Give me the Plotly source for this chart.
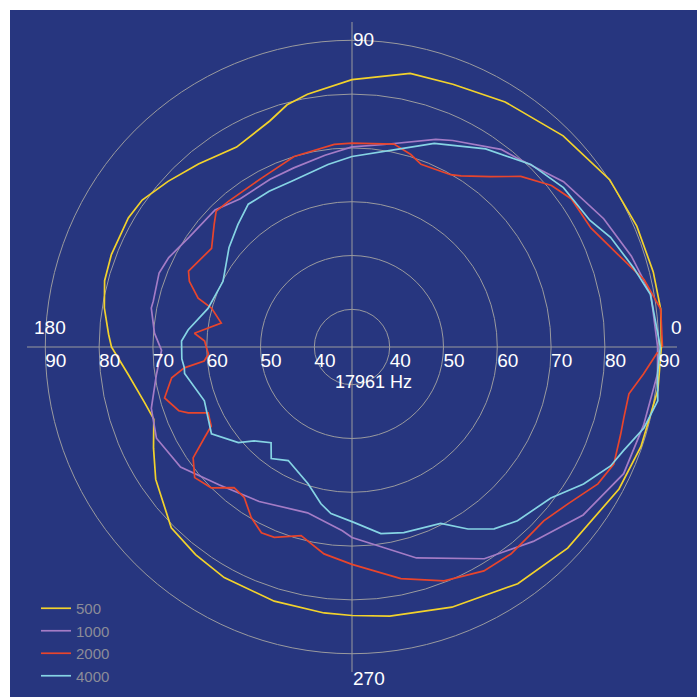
import plotly.graph_objects as go

# ---------------- data ----------------
SERIES_NAMES = ["500", "1000", "2000", "4000"]

THETA_500 = [0, 7, 14, 23, 33, 45, 58, 69, 78, 90, 100, 105, 110, 120, 130, 138, 145, 150, 159, 165,
             171, 177, 180, 187, 195, 200, 207, 214, 225, 233, 241, 253, 264, 270, 278, 291, 305,
             317, 332, 341, 352, 360]
R_500 = [90.5, 90.8, 90.7, 90.5, 90.1, 88.5, 86.7, 85.3, 85.0, 82.7, 80.7, 79.6, 77.7, 75.9, 77.4, 79.0,
         80.6, 81.0, 80.9, 80.6, 79.6, 78.3, 77.7, 74.9, 72.9, 72.2, 74.4, 77.0, 80.5, 81.3, 82.0,
         82.4, 82.7, 82.9, 83.5, 84.8, 86.7, 87.8, 89.2, 89.8, 90.4, 90.5]

THETA_1000 = [0, 10, 18, 27, 38, 49, 53, 64, 68, 81, 90, 98, 108, 116, 127, 135, 146, 154, 159, 167,
              169, 176, 181, 188, 194, 197, 205, 215, 226, 239, 255, 267, 270, 287, 302, 313, 324,
              335, 345, 355, 360]
R_1000 = [89.8, 89.4, 87.6, 85.5, 82.9, 79.6, 79.0, 75.7, 74.6, 71.1, 70.2, 69.0, 68.0, 67.7, 67.5,
          69.0, 69.5, 70.9, 71.4, 70.9, 71.0, 69.8, 68.4, 69.7, 71.1, 72.0, 73.1, 71.9, 68.6, 66.5,
          64.9, 67.2, 68.4, 74.0, 79.4, 82.4, 86.1, 88.7, 89.1, 90.0, 89.8]

THETA_2000 = [0, 7, 13, 19, 26.5, 34, 39, 45.3, 50.9, 57.5, 60.2, 69.3, 73, 78.3, 90, 95, 106.9,
              118.3, 130.3, 135, 138.3, 144.9, 155.1, 158, 162.4, 164.5, 169.6, 175, 177.7, 180,
              182.8, 185.4, 187.1, 189.7, 195.2, 200.2, 201.9, 204.6, 209.3, 211.6, 214.9, 219.7,
              225, 230, 234.4, 239.4, 244, 247.8, 254.9, 262.3, 270, 281.9, 291.5, 300.5, 307.5,
              313.7, 317.8, 324, 330.9, 335.9, 342, 345.4, 350.4, 354.7, 359]
R_2000 = [90.7, 90.8, 88.7, 85.4, 82.6, 82.2, 80.7, 77.6, 73.8, 70.7, 69.9, 69.3, 70.4, 71.5, 70.9,
          70.8, 70.0, 68.6, 68.5, 68.7, 67.3, 64.9, 66.5, 65.6, 63.0, 60.1, 57.7, 62.4, 60.4, 60.1,
          59.7, 60.6, 64.4, 67.0, 69.1, 67.3, 65.8, 62.4, 63.0, 65.2, 69.0, 71.0, 70.0, 67.1, 67.4,
          69.8, 71.4, 71.2, 69.3, 71.8, 73.4, 77.0, 79.7, 81.3, 81.5, 81.1, 81.1, 82.6, 85.3, 86.3,
          85.5, 85.2, 85.2, 87.4, 89.8]

THETA_4000 = [0, 10, 15.6, 23, 28, 37, 45.6, 56, 68, 76, 90, 97.5, 110, 118, 126, 133, 141, 153,
              165, 174, 178, 184, 187, 189, 200, 211.7, 220.1, 223.8, 229.8, 234.1, 240.7, 252.2,
              258.8, 262.8, 270.6, 278.8, 285.6, 296.7, 302.5, 308, 313.6, 322.8, 329.4, 335.3,
              339.1, 344.5, 350, 355, 360]
R_4000 = [90.3, 89.3, 87.4, 85.2, 83.1, 82.2, 80.5, 77.4, 73.8, 71.0, 68.4, 67.2, 65.8, 65.8, 65.8,
          64.1, 62.4, 59.9, 60.7, 63.6, 64.7, 64.7, 64.4, 64.5, 62.2, 63.7, 60.6, 58.2, 56.3, 58.6,
          57.2, 59.7, 62.7, 64.2, 65.6, 68.1, 68.8, 69.7, 73.1, 75.9, 77.6, 79.4, 83.0, 85.9, 87.0,
          89.3, 90.7, 90.0, 90.3]

RADIAL_TICKS = [40, 50, 60, 70, 80, 90]
RADIAL_TICK_TEXT = ["40", "50", "60", "70", "80", "90"]
ANGLE_TICKS = [0, 90, 180, 270]
ANGLE_TICK_TEXT = ["0", "90", "180", "270"]
FREQ_LABEL = "17961 Hz"

# ---------------- style ----------------
W = H = 697
BG = "#27367F"
GRID = "#9A9A9E"
COLORS = ["#F2D22C", "#A47CC6", "#E8452C", "#86D4E4"]
FONT = "Liberation Sans"
R_MIN, R_MAX = 33.0, 93.4

DOM_X = [27 / W, 677 / W]
DOM_Y = [25 / H, 675 / H]
LABEL_DROP = 6 / H          # tick-label layer sits slightly below the axis line
DOM_Y_LABELS = [DOM_Y[0] - LABEL_DROP, DOM_Y[1] - LABEL_DROP]
CX = (DOM_X[0] + DOM_X[1]) / 2
CY = (DOM_Y[0] + DOM_Y[1]) / 2

fig = go.Figure()

series = [(THETA_500, R_500), (THETA_1000, R_1000), (THETA_2000, R_2000), (THETA_4000, R_4000)]
for name, (th, rr), col in zip(SERIES_NAMES, series, COLORS):
    fig.add_trace(go.Scatterpolar(
        r=rr, theta=th, mode="lines", name=name, subplot="polar",
        line=dict(color=col, width=1.7), hoverinfo="skip"))

# radial tick labels on both sides of the horizontal axis (on an overlaid label layer)
for side in (0, 180):
    fig.add_trace(go.Scatterpolar(
        r=RADIAL_TICKS, theta=[side] * len(RADIAL_TICKS), mode="text", subplot="polar2",
        text=RADIAL_TICK_TEXT, textposition="bottom right",
        textfont=dict(color="white", size=19, family=FONT),
        showlegend=False, hoverinfo="skip"))

hidden_radial = dict(range=[R_MIN, R_MAX], visible=False)
hidden_angular = dict(rotation=0, direction="counterclockwise", visible=False)

fig.update_layout(
    width=W, height=H,
    margin=dict(l=0, r=0, t=0, b=0),
    paper_bgcolor="white",
    font=dict(family=FONT),
    shapes=[dict(type="rect", xref="paper", yref="paper",
                 x0=10 / W, x1=1, y0=0, y1=1 - 10 / H,
                 fillcolor=BG, line=dict(width=0), layer="below")],
    polar=dict(
        domain=dict(x=DOM_X, y=DOM_Y),
        bgcolor="rgba(0,0,0,0)",
        radialaxis=dict(range=[R_MIN, R_MAX], tickvals=RADIAL_TICKS, showticklabels=False,
                        ticks="", showline=False, gridcolor=GRID, gridwidth=1.2),
        angularaxis=dict(rotation=0, direction="counterclockwise", tickvals=ANGLE_TICKS,
                         showticklabels=False, ticks="", showline=False,
                         gridcolor=GRID, gridwidth=1.4),
    ),
    polar2=dict(
        domain=dict(x=DOM_X, y=DOM_Y_LABELS),
        bgcolor="rgba(0,0,0,0)",
        radialaxis=hidden_radial,
        angularaxis=hidden_angular,
    ),
    legend=dict(x=36 / W, y=1 - 592 / H, xanchor="left", yanchor="top",
                bgcolor="rgba(0,0,0,0)", tracegroupgap=0,
                font=dict(color="#8C8C98", size=15, family=FONT)),
    showlegend=True,
)

label_shifts = {"0": (324, 20), "90": (11, 308), "180": (-302, 20), "270": (17, -331)}
annotations = []
for t in ANGLE_TICK_TEXT:
    dx, dy = label_shifts[t]
    annotations.append(dict(text=t, x=CX, y=CY, xref="paper", yref="paper",
                            xshift=dx, yshift=dy, showarrow=False,
                            font=dict(color="white", size=19, family=FONT)))
annotations.append(dict(text=FREQ_LABEL, x=CX, y=CY, xref="paper", yref="paper",
                        xshift=21, yshift=-35, showarrow=False,
                        font=dict(color="white", size=18, family=FONT)))
fig.update_layout(annotations=annotations)

fig.write_html("out.html", config={"displayModeBar": False},
               post_script="document.body.style.margin='0';document.body.style.overflow='hidden';")
